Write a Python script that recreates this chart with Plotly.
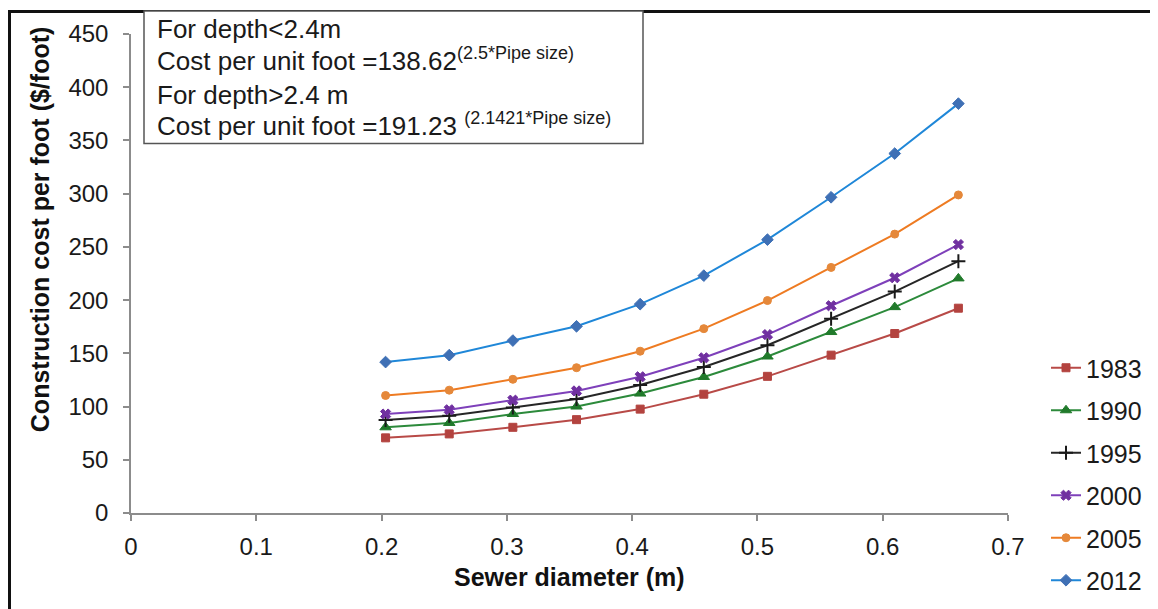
import plotly.graph_objects as go

# ---- data ----
diameter_m = [0.2032, 0.254, 0.3048, 0.3556, 0.4064, 0.4572, 0.508, 0.5588, 0.6096, 0.6604]
years = ["1983", "1990", "1995", "2000", "2005", "2012"]
cost_1983 = [70.6, 74.3, 80.5, 87.7, 97.6, 111.6, 128.4, 148.3, 168.6, 192.4]
cost_1990 = [80.5, 84.6, 93.0, 100.0, 112.2, 127.8, 147.0, 170.0, 193.4, 220.4]
cost_1995 = [87.4, 91.4, 99.2, 107.0, 120.3, 137.1, 157.6, 182.5, 208.0, 236.6]
cost_2000 = [93.0, 97.0, 106.0, 114.7, 128.0, 145.8, 167.6, 194.7, 221.0, 252.2]
cost_2005 = [110.4, 115.4, 125.6, 136.5, 152.0, 173.2, 199.6, 230.7, 262.0, 298.8]
cost_2012 = [141.8, 148.3, 162.0, 175.4, 196.2, 223.0, 256.8, 296.6, 337.7, 384.6]
x_ticks = [0, 0.1, 0.2, 0.3, 0.4, 0.5, 0.6, 0.7]
x_tick_text = ["0", "0.1", "0.2", "0.3", "0.4", "0.5", "0.6", "0.7"]
y_ticks = [0, 50, 100, 150, 200, 250, 300, 350, 400, 450]

series = [cost_1983, cost_1990, cost_1995, cost_2000, cost_2005, cost_2012]
styles = [
    dict(line="#B84A47", marker="#B3433F", symbol="square", size=8, lw=1),
    dict(line="#2C8A3B", marker="#217A2B", symbol="triangle-up", size=10, lw=1),
    dict(line="#262626", marker="#1A1A1A", symbol="cross-thin", size=10, lw=2),
    dict(line="#7E40BA", marker="#7030A0", symbol="x", size=9, lw=1),
    dict(line="#EE7B22", marker="#E5883A", symbol="circle", size=8, lw=1),
    dict(line="#1F87D8", marker="#3F70B5", symbol="diamond", size=9, lw=1),
]

FONT = "Liberation Sans, Arial, sans-serif"

fig = go.Figure()
for name, vals, st in zip(years, series, styles):
    fig.add_trace(go.Scatter(
        x=diameter_m, y=vals, name=name, mode="lines+markers",
        legendgroup=name,
        line=dict(color=st["line"], width=2),
        marker=dict(color=st["marker"], symbol=st["symbol"], size=st["size"],
                    line=dict(color=st["marker"], width=st["lw"])),
    ))

# page has an 8px body margin; figure fills the rest of the 1158x609 window
OFF = 8
W, H = 1158 - OFF, 609 - OFF
L, T = 131 - OFF, 32 - OFF
R = W - (1008 - OFF)
B = H - (513 - OFF)
pw, ph = W - L - R, H - T - B

def px(xpage):
    return (xpage - OFF - L) / pw

def py(ypage):
    return (H - B - (ypage - OFF)) / ph

fig.update_layout(
    width=W, height=H,
    margin=dict(l=L, r=R, t=T, b=B),
    paper_bgcolor="white", plot_bgcolor="white",
    font=dict(family=FONT, size=24, color="#1a1a1a"),
    showlegend=True,
    legend=dict(
        xref="container", yref="container",
        x=(1046 - OFF) / W, y=1 - (345 - OFF) / H, xanchor="left", yanchor="top",
        font=dict(size=25, color="#1a1a1a"),
        traceorder="grouped", tracegroupgap=7,
        bgcolor="rgba(0,0,0,0)",
    ),
    xaxis=dict(
        range=[0, 0.7], tickvals=x_ticks, ticktext=x_tick_text,
        showgrid=False, zeroline=False,
        showline=True, linecolor="#8c8c8c", linewidth=1.5,
        ticks="outside", ticklen=6, tickcolor="#8c8c8c", tickwidth=1.5,
        tickfont=dict(size=24, color="#1a1a1a"),
        ticklabelstandoff=5,
    ),
    yaxis=dict(
        range=[0, 450], tickvals=y_ticks,
        showgrid=False, zeroline=False,
        showline=True, linecolor="#8c8c8c", linewidth=1.5,
        ticks="outside", ticklen=6, tickcolor="#8c8c8c", tickwidth=1.5,
        tickfont=dict(size=24, color="#1a1a1a"),
        ticklabelstandoff=10,
    ),
)

# outer frame (left and top edges visible)
fig.add_shape(type="rect", xref="paper", yref="paper",
              x0=px(9.5), x1=px(1200), y0=py(660), y1=py(9.5),
              line=dict(color="#111111", width=3), fillcolor="rgba(0,0,0,0)", layer="above")

# equation text box
fig.add_shape(type="rect", xref="paper", yref="paper",
              x0=px(144), x1=px(643), y0=py(142), y1=py(9),
              line=dict(color="#555555", width=1.5), fillcolor="white", layer="above")

SUP = '<sup><span style="font-size:18px">{}</span></sup>'
box_lines = [
    ("For depth&lt;2.4m", 27),
    ("Cost per unit foot =138.62" + SUP.format("(2.5*Pipe size)"), 58),
    ("For depth&gt;2.4 m", 93),
    ("Cost per unit foot =191.23 " + SUP.format("(2.1421*Pipe size)"), 123),
]
for txt, yc in box_lines:
    fig.add_annotation(text=txt, xref="paper", yref="paper",
                       x=px(155), y=py(yc), xanchor="left", yanchor="middle",
                       showarrow=False, align="left",
                       font=dict(size=26, color="#1a1a1a", family=FONT))

# axis titles
fig.add_annotation(text="<b>Construction cost per foot ($/foot)</b>",
                   xref="paper", yref="paper", x=px(40), y=py(228),
                   xanchor="center", yanchor="middle", textangle=-90, showarrow=False,
                   font=dict(size=25, color="#111111", family=FONT))
fig.add_annotation(text="<b>Sewer diameter (m)</b>",
                   xref="paper", yref="paper", x=px(569), y=py(577),
                   xanchor="center", yanchor="middle", showarrow=False,
                   font=dict(size=25, color="#111111", family=FONT))

fig.write_html("out.html")
